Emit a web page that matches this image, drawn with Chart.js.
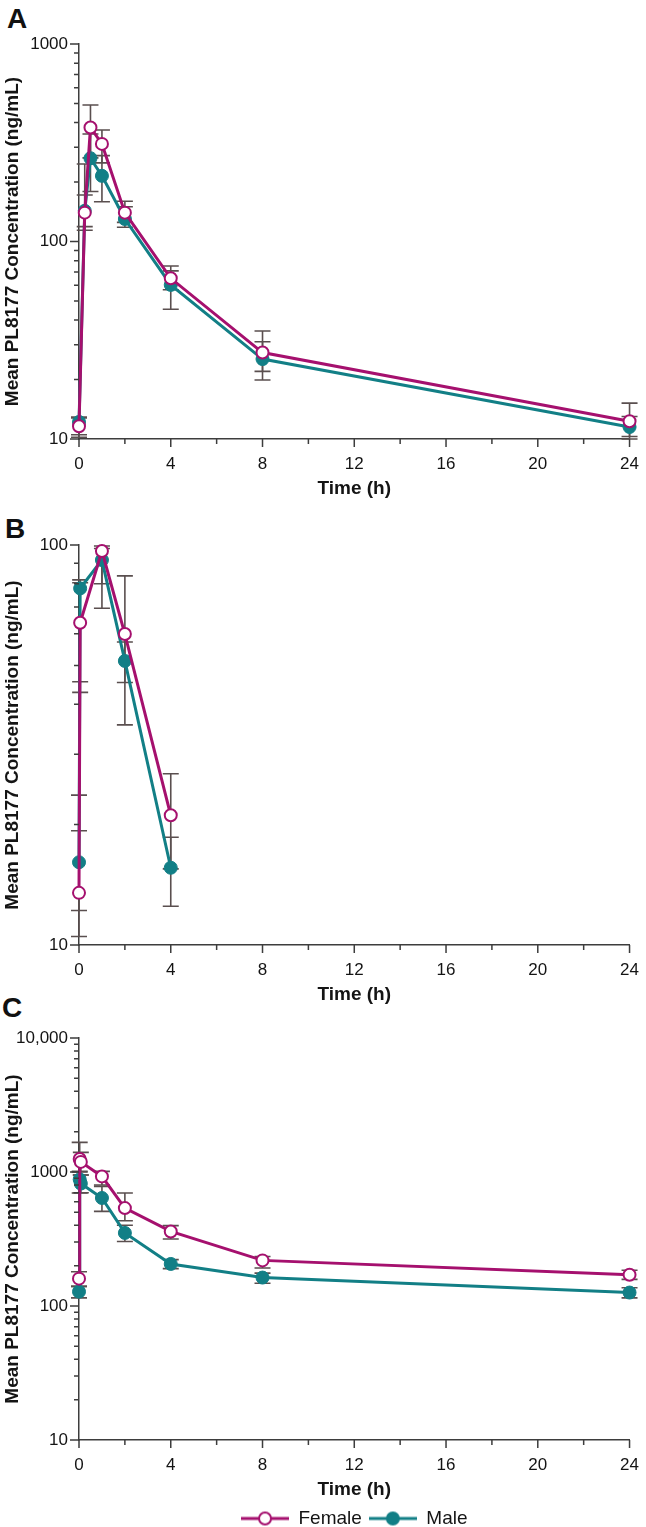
<!DOCTYPE html>
<html>
<head>
<meta charset="utf-8">
<script src="https://cdn.jsdelivr.net/npm/chart.js@4.4.1/dist/chart.umd.min.js"></script>
<style>
  html, body { margin: 0; padding: 0; background: #fff; }
  body { position: relative; width: 646px; height: 1527px; overflow: hidden; font-family: "Liberation Sans", Arial, sans-serif; }
  .panel { position: absolute; left: 0; }
  .tag { position: absolute; font-weight: bold; font-size: 28px; line-height: 28px; color: #111; }
</style>
</head>
<body>
<div class="tag" style="left:7px;top:5px;">A</div>
<div class="tag" style="left:5px;top:515px;">B</div>
<div class="tag" style="left:2px;top:994px;">C</div>
<canvas id="chartA" class="panel" style="top:0px" width="646" height="501"></canvas>
<canvas id="chartB" class="panel" style="top:501px" width="646" height="506"></canvas>
<canvas id="chartC" class="panel" style="top:1007px" width="646" height="531"></canvas>
<script>
// ---- data ----
var xTickValues = [0, 4, 8, 12, 16, 20, 24];
var xTickLabels = ['0', '4', '8', '12', '16', '20', '24'];
var xMinorTicks = [2, 6, 10, 14, 18, 22];

// Panel A
var timesA = [0, 0.25, 0.5, 1, 2, 4, 8, 24];
var femaleA = [11.6, 140, 378, 312, 140, 65.1, 27.4, 12.3];
var femaleLoA = [10.2, 114, 265, 250, 125, 57, 22, 10.3];
var femaleHiA = [12.8, 247, 491, 367, 160, 75.1, 35.2, 15.2];
var maleA = [12.2, 143, 264, 215, 130, 60.3, 25.4, 11.5];
var maleLoA = [10.5, 119, 179, 159, 118, 45.4, 19.9, 10.0];
var maleHiA = [12.9, 172, 350, 272, 150, 71, 31.1, 13.0];
var yDecadesA = [10, 100, 1000];
var yLabelsA = ['10', '100', '1000'];

// Panel B
var timesB = [0, 0.05, 1, 2, 4];
var femaleB = [13.5, 63.9, 96.6, 59.9, 21.1];
var femaleLoB = [10.5, 42.8, 80, 45.3, 15.5];
var femaleHiB = [19.3, 81.8, 99.4, 83.7, 26.8];
var maleB = [16.1, 77.9, 91.7, 51.3, 15.6];
var maleLoB = [12.2, 45.5, 69.5, 35.5, 12.5];
var maleHiB = [23.7, 80.5, 98, 57.2, 18.6];
var yDecadesB = [10, 100];
var yLabelsB = ['10', '100'];

// Panel C
var timesC = [0, 0.03, 0.08, 1, 2, 4, 8, 24];
var femaleC = [160, 1250, 1190, 927, 538, 360, 219, 171];
var femaleLoC = [140, 1000, 950, 800, 433, 316, 192, 158];
var femaleHiC = [180, 1663, 1400, 1010, 697, 398, 234, 185];
var maleC = [128, 880, 820, 640, 351, 206, 163, 126];
var maleLoC = [115, 697, 700, 508, 303, 190, 148, 115];
var maleHiC = [140, 1010, 950, 781, 400, 222, 176, 137];
var yDecadesC = [10, 100, 1000, 10000];
var yLabelsC = ['10', '100', '1000', '10,000'];

var FEMALE = '#a5106e';
var MALE = '#127f86';
var AXIS = '#3d3d3d';
var BAR = '#5a4f4f';
var TEXT = '#141414';
var FONT = '"Liberation Sans", Arial, sans-serif';

function pts(xs, ys){
    return xs.map(function(x, i){ return {x: x, y: ys[i]}; });
}
function minorOf(decades){
    var out = [];
    for (var d = 0; d < decades.length - 1; d++) {
        for (var k = 2; k <= 9; k++) out.push(decades[d] * k);
    }
    return out;
}

// error bars behind the markers
var errorBars = {
    id: 'errorBars',
    beforeDatasetsDraw: function(chart){
        var ctx = chart.ctx, xs = chart.scales.x, ys = chart.scales.y;
        ctx.save();
        ctx.strokeStyle = BAR;
        ctx.lineWidth = 1.6;
        chart.data.datasets.forEach(function(ds){
            ds.data.forEach(function(p, i){
                var x = xs.getPixelForValue(p.x);
                var y1 = ys.getPixelForValue(ds.lo[i]);
                var y2 = ys.getPixelForValue(ds.hi[i]);
                ctx.beginPath();
                ctx.moveTo(x, y1); ctx.lineTo(x, y2);
                ctx.moveTo(x - 8, y1); ctx.lineTo(x + 8, y1);
                ctx.moveTo(x - 8, y2); ctx.lineTo(x + 8, y2);
                ctx.stroke();
            });
        });
        ctx.restore();
    }
};

// outward major / minor tick marks on both axes
var axisTicks = {
    id: 'axisTicks',
    afterDraw: function(chart, args, opts){
        var ctx = chart.ctx, xs = chart.scales.x, ys = chart.scales.y, a = chart.chartArea;
        ctx.save();
        ctx.strokeStyle = AXIS;
        ctx.lineWidth = 1.5;
        ctx.beginPath();
        opts.xMajor.forEach(function(v){ var x = xs.getPixelForValue(v); ctx.moveTo(x, a.bottom); ctx.lineTo(x, a.bottom + 8); });
        opts.xMinor.forEach(function(v){ var x = xs.getPixelForValue(v); ctx.moveTo(x, a.bottom); ctx.lineTo(x, a.bottom + 5); });
        opts.yMajor.forEach(function(v){ var y = ys.getPixelForValue(v); ctx.moveTo(a.left, y); ctx.lineTo(a.left - 9, y); });
        opts.yMinor.forEach(function(v){ var y = ys.getPixelForValue(v); ctx.moveTo(a.left, y); ctx.lineTo(a.left - 5, y); });
        ctx.stroke();
        ctx.restore();
    }
};

function legendIcon(color, filled){
    var c = document.createElement('canvas');
    c.width = 48; c.height = 16;
    var g = c.getContext('2d');
    g.strokeStyle = color; g.lineWidth = 3;
    g.beginPath(); g.moveTo(0, 8); g.lineTo(48, 8); g.stroke();
    g.beginPath(); g.arc(24, 8, 6, 0, Math.PI * 2);
    g.fillStyle = filled ? color : '#fff';
    g.fill();
    g.lineWidth = 2; g.stroke();
    return c;
}

function makeChart(id, times, f, fLo, fHi, m, mLo, mHi, decades, labels, padTop, showLegend){
    var icons = [legendIcon(FEMALE, false), legendIcon(MALE, true)];
    return new Chart(document.getElementById(id), {
        type: 'line',
        data: {
            datasets: [
                { label: 'Female', data: pts(times, f), lo: fLo, hi: fHi, borderColor: FEMALE, borderWidth: 3,
                  pointRadius: 6, pointBorderWidth: 2, pointBackgroundColor: '#fff', pointBorderColor: FEMALE, clip: false },
                { label: 'Male', data: pts(times, m), lo: mLo, hi: mHi, borderColor: MALE, borderWidth: 3,
                  pointRadius: 6.5, pointBorderWidth: 1, pointBackgroundColor: MALE, pointBorderColor: MALE, clip: false }
            ]
        },
        options: {
            responsive: false,
            animation: false,
            events: [],
            layout: { padding: { top: padTop, right: 12, left: 0, bottom: 0 } },
            scales: {
                x: {
                    type: 'linear', min: 0, max: 24,
                    afterBuildTicks: function(s){ s.ticks = xTickValues.map(function(v){ return {value: v}; }); },
                    afterFit: function(s){ s.height = 62; },
                    ticks: { callback: function(v, i){ return xTickLabels[i]; }, font: { family: FONT, size: 17 }, color: TEXT, padding: 7, maxRotation: 0 },
                    grid: { display: false, drawTicks: true, tickLength: 8 },
                    border: { display: true, color: AXIS, width: 1.5 },
                    title: { display: true, text: 'Time (h)', font: { family: FONT, size: 19, weight: 'bold' }, color: TEXT, padding: { top: 0, bottom: 1 } }
                },
                y: {
                    type: 'logarithmic', min: decades[0], max: decades[decades.length - 1],
                    afterBuildTicks: function(s){ s.ticks = decades.map(function(v){ return {value: v}; }); },
                    afterFit: function(s){ s.width = 79; },
                    ticks: { callback: function(v, i){ return labels[i]; }, font: { family: FONT, size: 17 }, color: TEXT, padding: 3 },
                    grid: { display: false, drawTicks: true, tickLength: 8 },
                    border: { display: true, color: AXIS, width: 1.5 },
                    title: { display: true, text: 'Mean PL8177 Concentration (ng/mL)', font: { family: FONT, size: 19, weight: 'bold' }, color: TEXT, padding: { top: 1, bottom: 0 } }
                }
            },
            plugins: {
                tooltip: { enabled: false },
                legend: {
                    display: showLegend,
                    position: 'bottom',
                    fullSize: false,
                    labels: {
                        usePointStyle: true, pointStyleWidth: 48, padding: 7,
                        font: { family: FONT, size: 19 }, color: TEXT,
                        generateLabels: function(chart){
                            return chart.data.datasets.map(function(ds, i){
                                return { text: ds.label, pointStyle: icons[i], fontColor: TEXT, lineWidth: 0,
                                         strokeStyle: 'transparent', fillStyle: 'transparent', datasetIndex: i, hidden: false };
                            });
                        }
                    }
                },
                axisTicks: { xMajor: xTickValues, xMinor: xMinorTicks, yMajor: decades, yMinor: minorOf(decades) }
            }
        },
        plugins: [errorBars, axisTicks]
    });
}

document.addEventListener('DOMContentLoaded', function(){
    makeChart('chartA', timesA, femaleA, femaleLoA, femaleHiA, maleA, maleLoA, maleHiA, yDecadesA, yLabelsA, 44, false);
    makeChart('chartB', timesB, femaleB, femaleLoB, femaleHiB, maleB, maleLoB, maleHiB, yDecadesB, yLabelsB, 44, false);
    makeChart('chartC', timesC, femaleC, femaleLoC, femaleHiC, maleC, maleLoC, maleHiC, yDecadesC, yLabelsC, 31, true);
});
</script>
</body>
</html>
